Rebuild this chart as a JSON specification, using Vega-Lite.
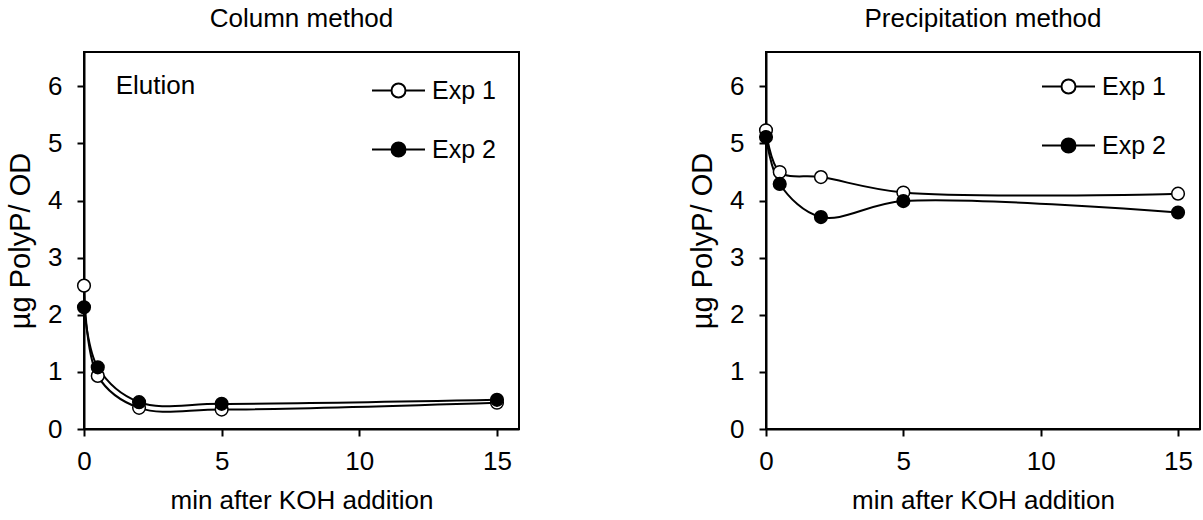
{
  "$schema": "https://vega.github.io/schema/vega-lite/v6.json",
  "padding": {"left": 5, "top": 5, "right": 2, "bottom": 2},
  "background": "white",
  "spacing": 167,
  "config": {
    "font": "Liberation Sans",
    "view": {"stroke": "black", "strokeWidth": 2},
    "axis": {"grid": false, "domainColor": "black", "domainWidth": 2, "tickColor": "black", "tickWidth": 2, "tickSize": 7, "labelFontSize": 26, "labelColor": "black", "titleFontSize": 26, "titleFontWeight": "normal", "titleColor": "black", "labelFont": "Liberation Sans", "titleFont": "Liberation Sans"},
    "title": {"fontSize": 26, "fontWeight": "normal", "font": "Liberation Sans", "color": "black", "anchor": "middle", "baseline": "alphabetic", "offset": 20},
    "legend": {
      "title": null,
      "symbolType": "M-1,0H-0.264M0.264,0H1M-0.264,0A0.264,0.264,0,1,0,0.264,0A0.264,0.264,0,1,0,-0.264,0Z",
      "symbolSize": 2809,
      "symbolStrokeColor": "black",
      "symbolStrokeWidth": 2,
      "labelFontSize": 25,
      "labelFont": "Liberation Sans",
      "labelColor": "black",
      "labelOffset": 6,
      "rowPadding": 18,
      "padding": 0
    }
  },
  "resolve": {"scale": {"fill": "independent"}, "legend": {"fill": "independent"}},
  "hconcat": [
    {
      "title": "Column method",
      "width": 435,
      "height": 377,
      "data": {"values": [
        {"exp": "Exp 1", "min": 0, "polyp": 2.51},
        {"exp": "Exp 1", "min": 0.5, "polyp": 0.93},
        {"exp": "Exp 1", "min": 2, "polyp": 0.37},
        {"exp": "Exp 1", "min": 5, "polyp": 0.34},
        {"exp": "Exp 1", "min": 15, "polyp": 0.46},
        {"exp": "Exp 2", "min": 0, "polyp": 2.13},
        {"exp": "Exp 2", "min": 0.5, "polyp": 1.08},
        {"exp": "Exp 2", "min": 2, "polyp": 0.47},
        {"exp": "Exp 2", "min": 5, "polyp": 0.44},
        {"exp": "Exp 2", "min": 15, "polyp": 0.51}
      ]},
      "encoding": {
        "x": {"field": "min", "type": "quantitative", "scale": {"domain": [0, 15.8], "nice": false}, "axis": {"values": [0, 5, 10, 15], "title": "min after KOH addition", "labelPadding": 12, "titlePadding": 13, "labelFlush": false}},
        "y": {"field": "polyp", "type": "quantitative", "scale": {"domain": [0, 6.6], "nice": false}, "axis": {"values": [0, 1, 2, 3, 4, 5, 6], "title": "µg PolyP/ OD", "titleFontSize": 29, "labelPadding": 15, "titlePadding": 12, "labelFlush": false}}
      },
      "layer": [
        {"mark": {"type": "line", "interpolate": "catmull-rom", "color": "black", "strokeWidth": 2}, "encoding": {"detail": {"field": "exp"}}},
        {"mark": {"type": "point", "filled": true, "stroke": "black", "strokeWidth": 1.5, "size": 160, "opacity": 1},
         "encoding": {"fill": {"field": "exp", "type": "nominal", "scale": {"domain": ["Exp 1", "Exp 2"], "range": ["white", "black"]},
           "legend": {"orient": "none", "legendX": 287, "legendY": 11}}}},
        {"transform": [{"filter": "datum.exp == 'Exp 1' && datum.min == 0"}],
         "mark": {"type": "text", "text": "Elution", "fontSize": 26, "align": "left", "baseline": "alphabetic", "color": "black", "font": "Liberation Sans"},
         "encoding": {"x": {"datum": 1.15}, "y": {"datum": 5.86}}}
      ]
    },
    {
      "title": "Precipitation method",
      "width": 434,
      "height": 377,
      "data": {"values": [
        {"exp": "Exp 1", "min": 0, "polyp": 5.23},
        {"exp": "Exp 1", "min": 0.5, "polyp": 4.5},
        {"exp": "Exp 1", "min": 2, "polyp": 4.41},
        {"exp": "Exp 1", "min": 5, "polyp": 4.14},
        {"exp": "Exp 1", "min": 15, "polyp": 4.12},
        {"exp": "Exp 2", "min": 0, "polyp": 5.11},
        {"exp": "Exp 2", "min": 0.5, "polyp": 4.29},
        {"exp": "Exp 2", "min": 2, "polyp": 3.71},
        {"exp": "Exp 2", "min": 5, "polyp": 3.99},
        {"exp": "Exp 2", "min": 15, "polyp": 3.79}
      ]},
      "encoding": {
        "x": {"field": "min", "type": "quantitative", "scale": {"domain": [0, 15.8], "nice": false}, "axis": {"values": [0, 5, 10, 15], "title": "min after KOH addition", "labelPadding": 12, "titlePadding": 13, "labelFlush": false}},
        "y": {"field": "polyp", "type": "quantitative", "scale": {"domain": [0, 6.6], "nice": false}, "axis": {"values": [0, 1, 2, 3, 4, 5, 6], "title": "µg PolyP/ OD", "titleFontSize": 29, "labelPadding": 15, "titlePadding": 12, "labelFlush": false}}
      },
      "layer": [
        {"mark": {"type": "line", "interpolate": "catmull-rom", "color": "black", "strokeWidth": 2}, "encoding": {"detail": {"field": "exp"}}},
        {"mark": {"type": "point", "filled": true, "stroke": "black", "strokeWidth": 1.5, "size": 160, "opacity": 1},
         "encoding": {"fill": {"field": "exp", "type": "nominal", "scale": {"domain": ["Exp 1", "Exp 2"], "range": ["white", "black"]},
           "legend": {"orient": "none", "legendX": 275, "legendY": 7}}}}
      ]
    }
  ]
}
